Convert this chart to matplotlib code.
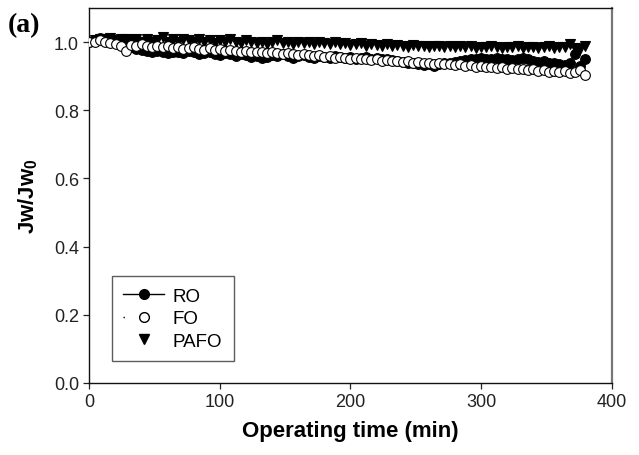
"""Normalized water flux vs operating time for RO, FO and PAFO."""
import numpy as np
import matplotlib
matplotlib.use("Agg")
import matplotlib.pyplot as plt
from matplotlib.lines import Line2D

plt.rcParams['font.family'] = ['Liberation Sans', 'DejaVu Sans']
plt.rcParams['mathtext.fontset'] = 'custom'
plt.rcParams['mathtext.rm'] = 'Liberation Sans:bold'
plt.rcParams['mathtext.bf'] = 'Liberation Sans:bold'

# sampling times (min), one reading every 4 min
timeMin = np.arange(0, 384, 4)

ro = [1.000, 1.005, 1.012, 1.010, 1.008, 1.000, 0.995, 0.990, 0.985, 0.980,
      0.978, 0.975, 0.972, 0.975, 0.970, 0.968, 0.972, 0.970, 0.968, 0.975,
      0.970, 0.965, 0.968, 0.970, 0.965, 0.962, 0.968, 0.965, 0.960, 0.965,
      0.962, 0.958, 0.960, 0.955, 0.958, 0.962, 0.960, 0.965, 0.960, 0.955,
      0.960, 0.962, 0.958, 0.955, 0.960, 0.958, 0.955, 0.960, 0.958, 0.955,
      0.958, 0.952, 0.955, 0.958, 0.950, 0.955, 0.952, 0.950, 0.948, 0.945,
      0.942, 0.940, 0.938, 0.935, 0.932, 0.935, 0.930, 0.935, 0.938, 0.940,
      0.942, 0.945, 0.948, 0.950, 0.952, 0.955, 0.952, 0.950, 0.955, 0.952,
      0.950, 0.948, 0.952, 0.955, 0.950, 0.945, 0.942, 0.945, 0.940, 0.938,
      0.935, 0.932, 0.940, 0.965, 0.930, 0.952]

fo = [1.000, 1.002, 1.005, 1.000, 0.998, 0.995, 0.990, 0.975, 0.992, 0.990,
      0.995, 0.988, 0.985, 0.990, 0.985, 0.988, 0.982, 0.985, 0.980, 0.982,
      0.985, 0.980, 0.978, 0.982, 0.978, 0.980, 0.975, 0.978, 0.975, 0.972,
      0.975, 0.972, 0.970, 0.972, 0.968, 0.970, 0.968, 0.965, 0.968, 0.965,
      0.962, 0.965, 0.962, 0.960, 0.962, 0.958, 0.960, 0.955, 0.958, 0.955,
      0.952, 0.955, 0.950, 0.952, 0.948, 0.950, 0.946, 0.948, 0.945, 0.946,
      0.942, 0.945, 0.940, 0.942, 0.938, 0.940, 0.936, 0.938, 0.935, 0.936,
      0.932, 0.935, 0.930, 0.932, 0.928, 0.930, 0.926, 0.928, 0.925, 0.926,
      0.922, 0.925, 0.920, 0.922, 0.918, 0.920, 0.916, 0.918, 0.914, 0.916,
      0.912, 0.915, 0.910, 0.912, 0.918, 0.905]

pafo = [1.000, 1.005, 1.010, 1.008, 1.012, 1.005, 1.010, 1.008, 1.005, 1.010,
        1.002, 1.008, 1.000, 1.005, 1.015, 1.002, 1.008, 1.000, 1.010, 1.005,
        1.000, 1.008, 1.002, 1.005, 0.998, 1.005, 1.000, 1.008, 1.002, 0.998,
        1.005, 1.000, 0.998, 1.002, 0.995, 1.000, 1.005, 0.998, 1.002, 0.995,
        1.000, 0.998, 1.002, 0.995, 1.000, 0.998, 0.995, 1.000, 0.995, 0.998,
        0.992, 0.995, 0.998, 0.990, 0.995, 0.992, 0.990, 0.995, 0.988, 0.992,
        0.990, 0.985, 0.992, 0.988, 0.990, 0.985, 0.988, 0.990, 0.985, 0.988,
        0.985, 0.990, 0.985, 0.988, 0.983, 0.987, 0.985, 0.988, 0.985, 0.983,
        0.987, 0.985, 0.988, 0.983, 0.985, 0.987, 0.983, 0.985, 0.988, 0.983,
        0.985, 0.987, 0.995, 0.983, 0.980, 0.988]

fig = plt.figure(figsize=(6.39, 4.56), dpi=100)
ax = fig.add_axes([0.140, 0.158, 0.817, 0.822])

ax.plot(timeMin, ro, 'o', ms=7, mfc='black', mec='black', mew=0.8, zorder=3)
ax.plot(timeMin, fo, 'o', ms=7, mfc='white', mec='black', mew=0.8, zorder=4)
ax.plot(timeMin, pafo, 'v', ms=7.5, mfc='black', mec='black', mew=0.8, zorder=2)

ax.set_xlim(0, 400)
ax.set_ylim(0, 1.1)
ax.set_xticks([0, 100, 200, 300, 400])
ax.set_yticks([0.0, 0.2, 0.4, 0.6, 0.8, 1.0])
ax.set_yticklabels(['0.0', '0.2', '0.4', '0.6', '0.8', '1.0'])
ax.tick_params(direction='out', length=4.5, width=0.9, labelsize=13,
               colors='#222222', top=False, right=False, pad=3)
for side in ['left', 'bottom', 'top']:
    ax.spines[side].set_color('#111111')
    ax.spines[side].set_linewidth(1.0)
ax.spines['right'].set_color('#777777')
ax.spines['right'].set_linewidth(1.6)

ax.set_xlabel('Operating time (min)', fontsize=16, fontweight='bold', labelpad=7)
ax.set_ylabel(r'Jw/Jw$_0$', fontsize=16, fontweight='bold', labelpad=10)

handles = [
    Line2D([], [], color='black', lw=1.0, marker='o', ms=7, mfc='black', mec='black'),
    Line2D([], [], color='black', lw=1.0, ls=(0, (1, 60)), marker='o', ms=7,
           mfc='white', mec='black'),
    Line2D([], [], ls='none', marker='v', ms=7.5, mfc='black', mec='black'),
]
leg = ax.legend(handles, ['RO', 'FO', 'PAFO'], loc='lower left',
                bbox_to_anchor=(0.043, 0.059), borderaxespad=0, fontsize=13.5,
                fancybox=False, frameon=True, handlelength=2.2, borderpad=0.6,
                labelspacing=0.28, handletextpad=0.45)
leg.get_frame().set_edgecolor('#333333')
leg.get_frame().set_linewidth(1.0)

fig.text(0.012, 0.93, '(a)', fontsize=20, fontweight='bold',
         family=['Liberation Serif', 'DejaVu Serif'])

fig.savefig('out.png', dpi=100)
